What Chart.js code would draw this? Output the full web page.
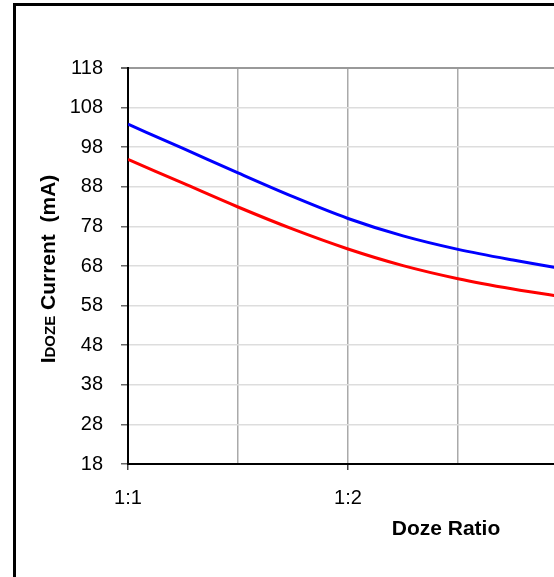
<!DOCTYPE html>
<html>
<head>
    <title>Idoze Current vs Doze Ratio</title>
    <script src="https://cdn.jsdelivr.net/npm/chart.js"></script>
    <style>
        body {
            margin: 0;
            background: #fff;
            overflow: hidden;
        }
        .chart-box {
            position: absolute;
            left: 0;
            top: 0;
            width: 820px;
            height: 640px;
        }
        .frame {
            position: absolute;
            left: 13px;
            top: 3px;
            width: 1000px;
            height: 1000px;
            border: 3px solid #000;
            pointer-events: none;
        }
    </style>
</head>
<body>
    <div class="chart-box"><canvas id="dozeChart"></canvas></div>
    <div class="frame"></div>

    <script>
        // x position 0 = 1:1, 1 = 1:2, 2 = 1:3
        const ratioPos = [0, 0.25, 0.5, 0.75, 1, 1.25, 1.5, 1.75, 2];
        const blueCurrent = [103.8, 97.7, 91.5, 85.5, 80.0, 75.6, 72.2, 69.5, 67.1];
        const redCurrent = [94.9, 88.9, 82.9, 77.3, 72.3, 68.1, 64.8, 62.2, 60.0];
        const ratioLabels = ['1:1', '1:2', '1:3', '1:4'];
        const yTicks = { min: 18, max: 118, step: 10 };

        Chart.defaults.font.family = '"Liberation Sans", Arial, sans-serif';
        Chart.defaults.color = '#000';

        // axis titles drawn by hand so "DOZE" can be set smaller than the rest
        const axisTitles = {
            id: 'axisTitles',
            afterDraw(chart) {
                const { ctx, chartArea } = chart;
                ctx.save();
                ctx.fillStyle = '#000';
                ctx.textBaseline = 'middle';
                ctx.textAlign = 'center';
                ctx.font = 'bold 21px "Liberation Sans", Arial, sans-serif';
                ctx.fillText('Doze Ratio', chartArea.left + 318, chartArea.bottom + 65);

                const parts = [['I', 21], ['DOZE', 15], [' Current  (mA)', 21]];
                let total = 0;
                parts.forEach(p => {
                    ctx.font = `bold ${p[1]}px "Liberation Sans", Arial, sans-serif`;
                    p.push(ctx.measureText(p[0]).width);
                    total += p[2];
                });
                ctx.translate(55, (chartArea.top + chartArea.bottom) / 2 + 3);
                ctx.rotate(-Math.PI / 2);
                ctx.textAlign = 'left';
                ctx.textBaseline = 'alphabetic';
                let x = -total / 2;
                parts.forEach(p => {
                    ctx.font = `bold ${p[1]}px "Liberation Sans", Arial, sans-serif`;
                    ctx.fillText(p[0], x, 0);
                    x += p[2];
                });
                ctx.restore();
            }
        };

        new Chart(document.getElementById('dozeChart'), {
            type: 'line',
            data: {
                datasets: [
                    {
                        label: 'Blue',
                        data: ratioPos.map((x, i) => ({ x: x, y: blueCurrent[i] })),
                        borderColor: '#0000ff',
                        borderWidth: 3,
                        pointRadius: 0,
                        cubicInterpolationMode: 'monotone'
                    },
                    {
                        label: 'Red',
                        data: ratioPos.map((x, i) => ({ x: x, y: redCurrent[i] })),
                        borderColor: '#ff0000',
                        borderWidth: 3,
                        pointRadius: 0,
                        cubicInterpolationMode: 'monotone'
                    }
                ]
            },
            options: {
                responsive: true,
                maintainAspectRatio: false,
                animation: false,
                layout: { padding: { top: 68, right: 32, left: 0, bottom: 0 } },
                plugins: {
                    legend: { display: false },
                    tooltip: { enabled: false }
                },
                scales: {
                    x: {
                        type: 'linear',
                        min: 0,
                        max: 3,
                        afterFit: scale => { scale.height = 176; },
                        border: { color: '#000', width: 2 },
                        grid: {
                            color: '#aaa',
                            lineWidth: 1.5,
                            tickLength: 6,
                            tickColor: ctx => Number.isInteger(ctx.tick.value) ? '#444' : 'rgba(0,0,0,0)'
                        },
                        ticks: {
                            stepSize: 0.5,
                            padding: 16,
                            maxRotation: 0,
                            autoSkip: false,
                            font: { size: 20 },
                            callback: v => Number.isInteger(v) ? ratioLabels[v] : ''
                        }
                    },
                    y: {
                        min: yTicks.min,
                        max: yTicks.max,
                        afterFit: scale => { scale.width = 128; },
                        border: { color: '#000', width: 2 },
                        grid: {
                            color: ctx => ctx.tick.value === yTicks.max ? '#999' : '#ddd',
                            lineWidth: ctx => ctx.tick.value === yTicks.max ? 2 : 1.5,
                            tickLength: 7,
                            tickColor: '#666'
                        },
                        ticks: {
                            stepSize: yTicks.step,
                            padding: 18,
                            font: { size: 20 }
                        }
                    }
                }
            },
            plugins: [axisTitles]
        });
    </script>
</body>
</html>
